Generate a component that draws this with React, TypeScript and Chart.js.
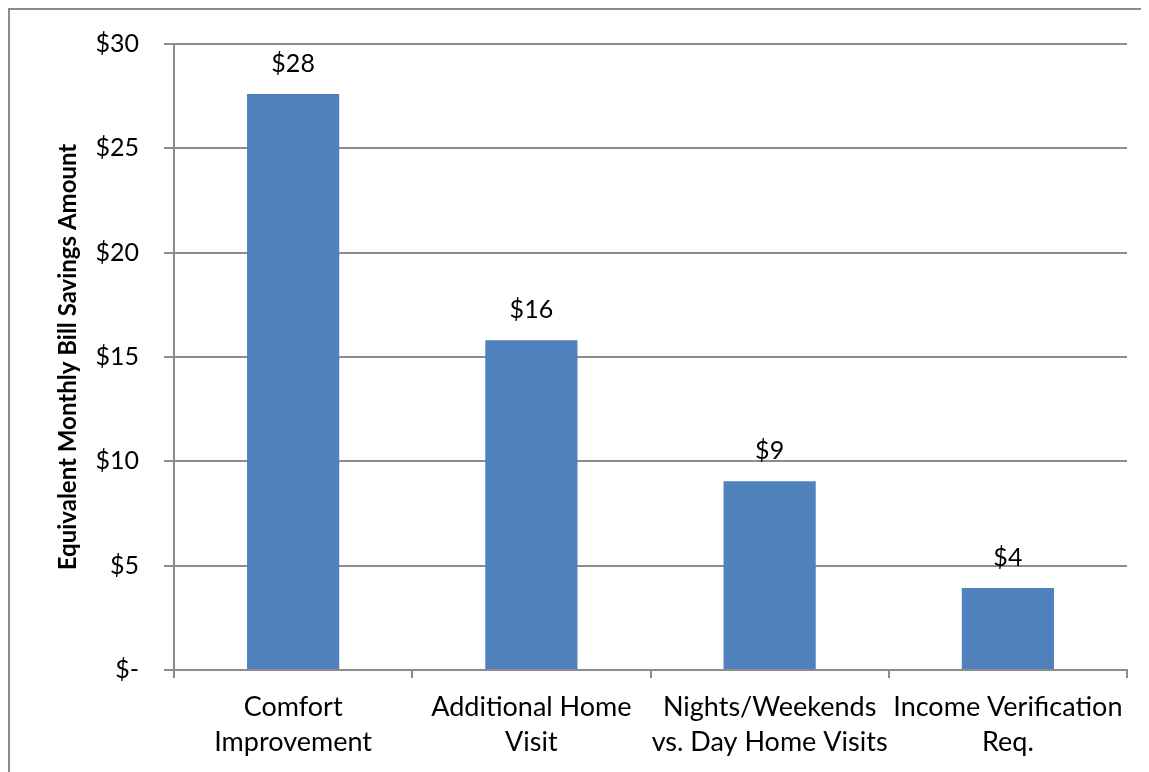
import React, { useEffect, useRef } from "react";
import { Chart, registerables } from "chart.js";

Chart.register(...registerables);

const categories: string[][] = [
  ["Comfort", "Improvement"],
  ["Additional Home", "Visit"],
  ["Nights/Weekends", "vs. Day Home Visits"],
  ["Income Verification", "Req."],
];
const savings: number[] = [27.6, 15.8, 9.05, 3.93];
const dataLabels: string[] = ["$28", "$16", "$9", "$4"];
const yTickMin = 0;
const yTickMax = 30;
const yTickStep = 5;
const yAxisTitle = "Equivalent Monthly Bill Savings Amount";

const FONT = "Lato, 'Open Sans', sans-serif";

const valueLabelPlugin = {
  id: "valueLabels",
  afterDatasetsDraw(chart: any) {
    const ctx = chart.ctx;
    const meta = chart.getDatasetMeta(0);
    ctx.save();
    ctx.font = `25px ${FONT}`;
    ctx.fillStyle = "#000";
    ctx.textAlign = "center";
    ctx.textBaseline = "alphabetic";
    meta.data.forEach((bar: any, i: number) => {
      ctx.fillText(dataLabels[i], bar.x, bar.y - 22);
    });
    ctx.restore();
  },
};

export default function App() {
  const ref = useRef<HTMLCanvasElement | null>(null);
  useEffect(() => {
    if (!ref.current) return;
    const chart = new Chart(ref.current, {
      type: "bar",
      data: {
        labels: categories,
        datasets: [
          {
            data: savings,
            backgroundColor: "#4F81BD",
            borderWidth: 0,
            barPercentage: 0.387,
            categoryPercentage: 1,
          },
        ],
      },
      options: {
        responsive: false,
        animation: false,
        layout: { padding: { top: 34, right: 22, left: 0, bottom: 0 } },
        plugins: {
          legend: { display: false },
          tooltip: { enabled: false },
        },
        scales: {
          x: {
            grid: {
              display: true,
              drawOnChartArea: false,
              drawTicks: true,
              tickLength: 8,
              color: "#8c8c8c",
              lineWidth: 2,
              offset: true,
            },
            border: { display: true, color: "#8c8c8c", width: 2 },
            ticks: {
              color: "#000",
              font: { family: FONT, size: 27, lineHeight: 1.3 },
              padding: 12,
              maxRotation: 0,
              autoSkip: false,
            },
            afterFit: (s: any) => {
              s.height = 102;
            },
          },
          y: {
            min: yTickMin,
            max: yTickMax,
            grid: {
              color: "#8c8c8c",
              lineWidth: 2,
              drawTicks: true,
              tickLength: 10,
            },
            border: { display: true, color: "#8c8c8c", width: 2 },
            ticks: {
              stepSize: yTickStep,
              color: "#000",
              padding: 25,
              font: { family: FONT, size: 25 },
              callback: (v: any) => (Number(v) === 0 ? "$-" : "$" + v),
            },
            title: {
              display: true,
              text: yAxisTitle,
              color: "#000",
              font: { family: FONT, size: 24, weight: "bold" },
              padding: { top: 44, bottom: 0 },
            },
            afterFit: (s: any) => {
              s.width = 164;
              s.paddingTop = 0;
              s.paddingBottom = 0;
            },
          },
        },
      },
      plugins: [valueLabelPlugin],
    });
    return () => chart.destroy();
  }, []);

  return (
    <div
      style={{
        width: 1141,
        height: 764,
        borderTop: "2px solid #8c8c8c",
        borderLeft: "2px solid #8c8c8c",
        boxSizing: "border-box",
        overflow: "hidden",
      }}
    >
      <canvas
        ref={ref}
        width={1139}
        height={762}
        style={{ display: "block", width: 1139, height: 762 }}
      />
    </div>
  );
}
